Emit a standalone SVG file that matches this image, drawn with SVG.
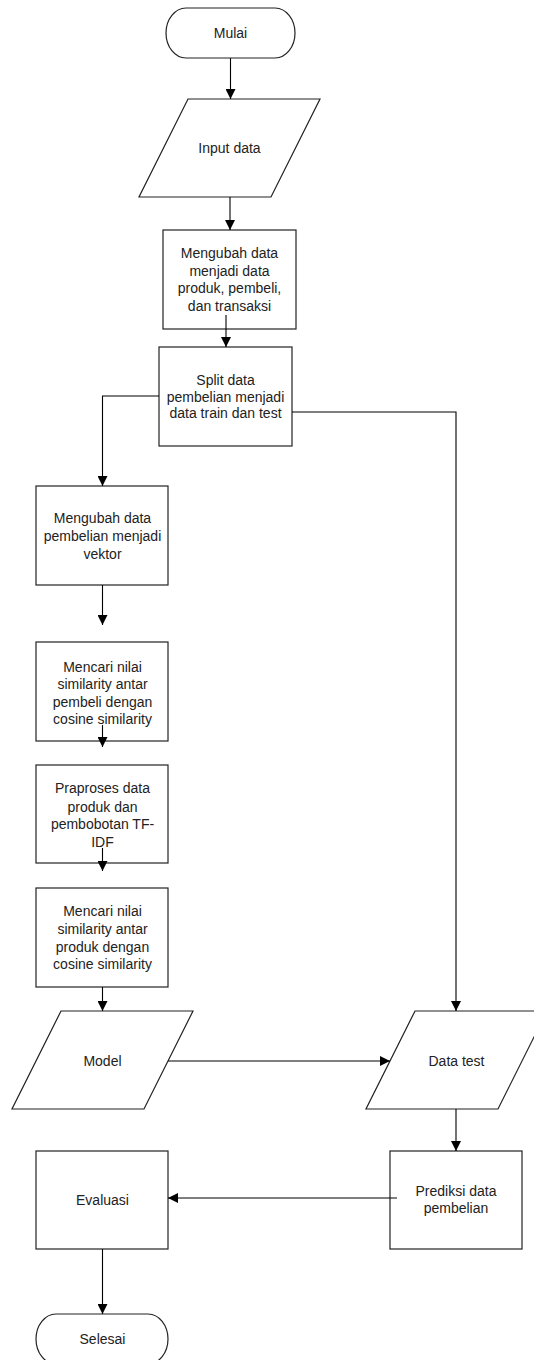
<svg xmlns="http://www.w3.org/2000/svg" width="534" height="1360" viewBox="0 0 534 1360">
<defs>
<marker id="ah" markerUnits="userSpaceOnUse" markerWidth="10" markerHeight="10" refX="10" refY="5" orient="auto">
<path d="M0,0 L10,5 L0,10 Z" fill="#000"/>
</marker>
<style>
.s{fill:#fff;stroke:#222;stroke-width:1.2}
.t{font-family:"Liberation Sans",Arial,sans-serif;font-size:14px;fill:#222;text-anchor:middle}
.c{fill:none;stroke:#000;stroke-width:1.1}
.a{marker-end:url(#ah)}
</style>
</defs>
<rect width="534" height="1360" fill="#fff"/>
<g id="mulai">
<rect class="s" x="166" y="8" width="129" height="50" rx="20" ry="25"/>
<text class="t" x="230.5" y="38">Mulai</text>
</g>
<g id="input">
<polygon class="s" points="188,99 320,99 271,197 139,197"/>
<text class="t" x="229.5" y="153">Input data</text>
</g>
<g id="ubah1">
<rect class="s" x="163" y="230" width="133" height="99"/>
<text class="t" x="229.5" y="258">Mengubah data</text>
<text class="t" x="229.5" y="276">menjadi data</text>
<text class="t" x="229.5" y="293">produk, pembeli,</text>
<text class="t" x="229.5" y="311">dan transaksi</text>
</g>
<g id="split">
<rect class="s" x="159" y="347" width="133" height="99"/>
<text class="t" x="225.5" y="385">Split data</text>
<text class="t" x="225.5" y="402">pembelian menjadi</text>
<text class="t" x="225.5" y="418">data train dan test</text>
</g>
<g id="vektor">
<rect class="s" x="36" y="486" width="132" height="99"/>
<text class="t" x="102.5" y="523">Mengubah data</text>
<text class="t" x="102.5" y="541">pembelian menjadi</text>
<text class="t" x="102.5" y="559">vektor</text>
</g>
<g id="simpembeli">
<rect class="s" x="36" y="642" width="132" height="99"/>
<text class="t" x="102.5" y="672">Mencari nilai</text>
<text class="t" x="102.5" y="689">similarity antar</text>
<text class="t" x="102.5" y="707">pembeli dengan</text>
<text class="t" x="102.5" y="724">cosine similarity</text>
</g>
<g id="praproses">
<rect class="s" x="36" y="765" width="132" height="98"/>
<text class="t" x="102.5" y="793">Praproses data</text>
<text class="t" x="102.5" y="812">produk dan</text>
<text class="t" x="102.5" y="829">pembobotan TF-</text>
<text class="t" x="102.5" y="847">IDF</text>
</g>
<g id="simproduk">
<rect class="s" x="36" y="888" width="132" height="99"/>
<text class="t" x="102.5" y="916">Mencari nilai</text>
<text class="t" x="102.5" y="934">similarity antar</text>
<text class="t" x="102.5" y="952">produk dengan</text>
<text class="t" x="102.5" y="969">cosine similarity</text>
</g>
<g id="model">
<polygon class="s" points="61,1011 193,1011 144,1109 12,1109"/>
<text class="t" x="102.5" y="1066">Model</text>
</g>
<g id="datatest">
<polygon class="s" points="415,1011 547,1011 498,1109 366,1109"/>
<text class="t" x="456.5" y="1066">Data test</text>
</g>
<g id="prediksi">
<rect class="s" x="390" y="1151" width="132" height="98"/>
<text class="t" x="456" y="1196">Prediksi data</text>
<text class="t" x="456" y="1213">pembelian</text>
</g>
<g id="evaluasi">
<rect class="s" x="36" y="1151" width="132" height="98"/>
<text class="t" x="102.5" y="1205">Evaluasi</text>
</g>
<g id="selesai">
<rect class="s" x="36" y="1314" width="132" height="50" rx="20" ry="25"/>
<text class="t" x="102.5" y="1344">Selesai</text>
</g>
<g id="connectors">
<line class="c a" x1="230.5" y1="58" x2="230.5" y2="99"/>
<line class="c a" x1="230" y1="197" x2="230" y2="230"/>
<line class="c a" x1="226" y1="315" x2="226" y2="347"/>
<polyline class="c a" points="159,396 102.5,396 102.5,486"/>
<polyline class="c a" points="292,412 456,412 456,1011"/>
<line class="c a" x1="102.5" y1="585" x2="102.5" y2="625"/>
<line class="c a" x1="102.5" y1="725" x2="102.5" y2="747"/>
<line class="c a" x1="102.5" y1="848" x2="102.5" y2="871"/>
<line class="c a" x1="102.5" y1="987" x2="102.5" y2="1011"/>
<line class="c a" x1="168" y1="1061" x2="390" y2="1061"/>
<line class="c a" x1="456" y1="1109" x2="456" y2="1151"/>
<line class="c a" x1="397" y1="1198" x2="168" y2="1198"/>
<line class="c a" x1="102.5" y1="1249" x2="102.5" y2="1314"/>
</g>
</svg>
